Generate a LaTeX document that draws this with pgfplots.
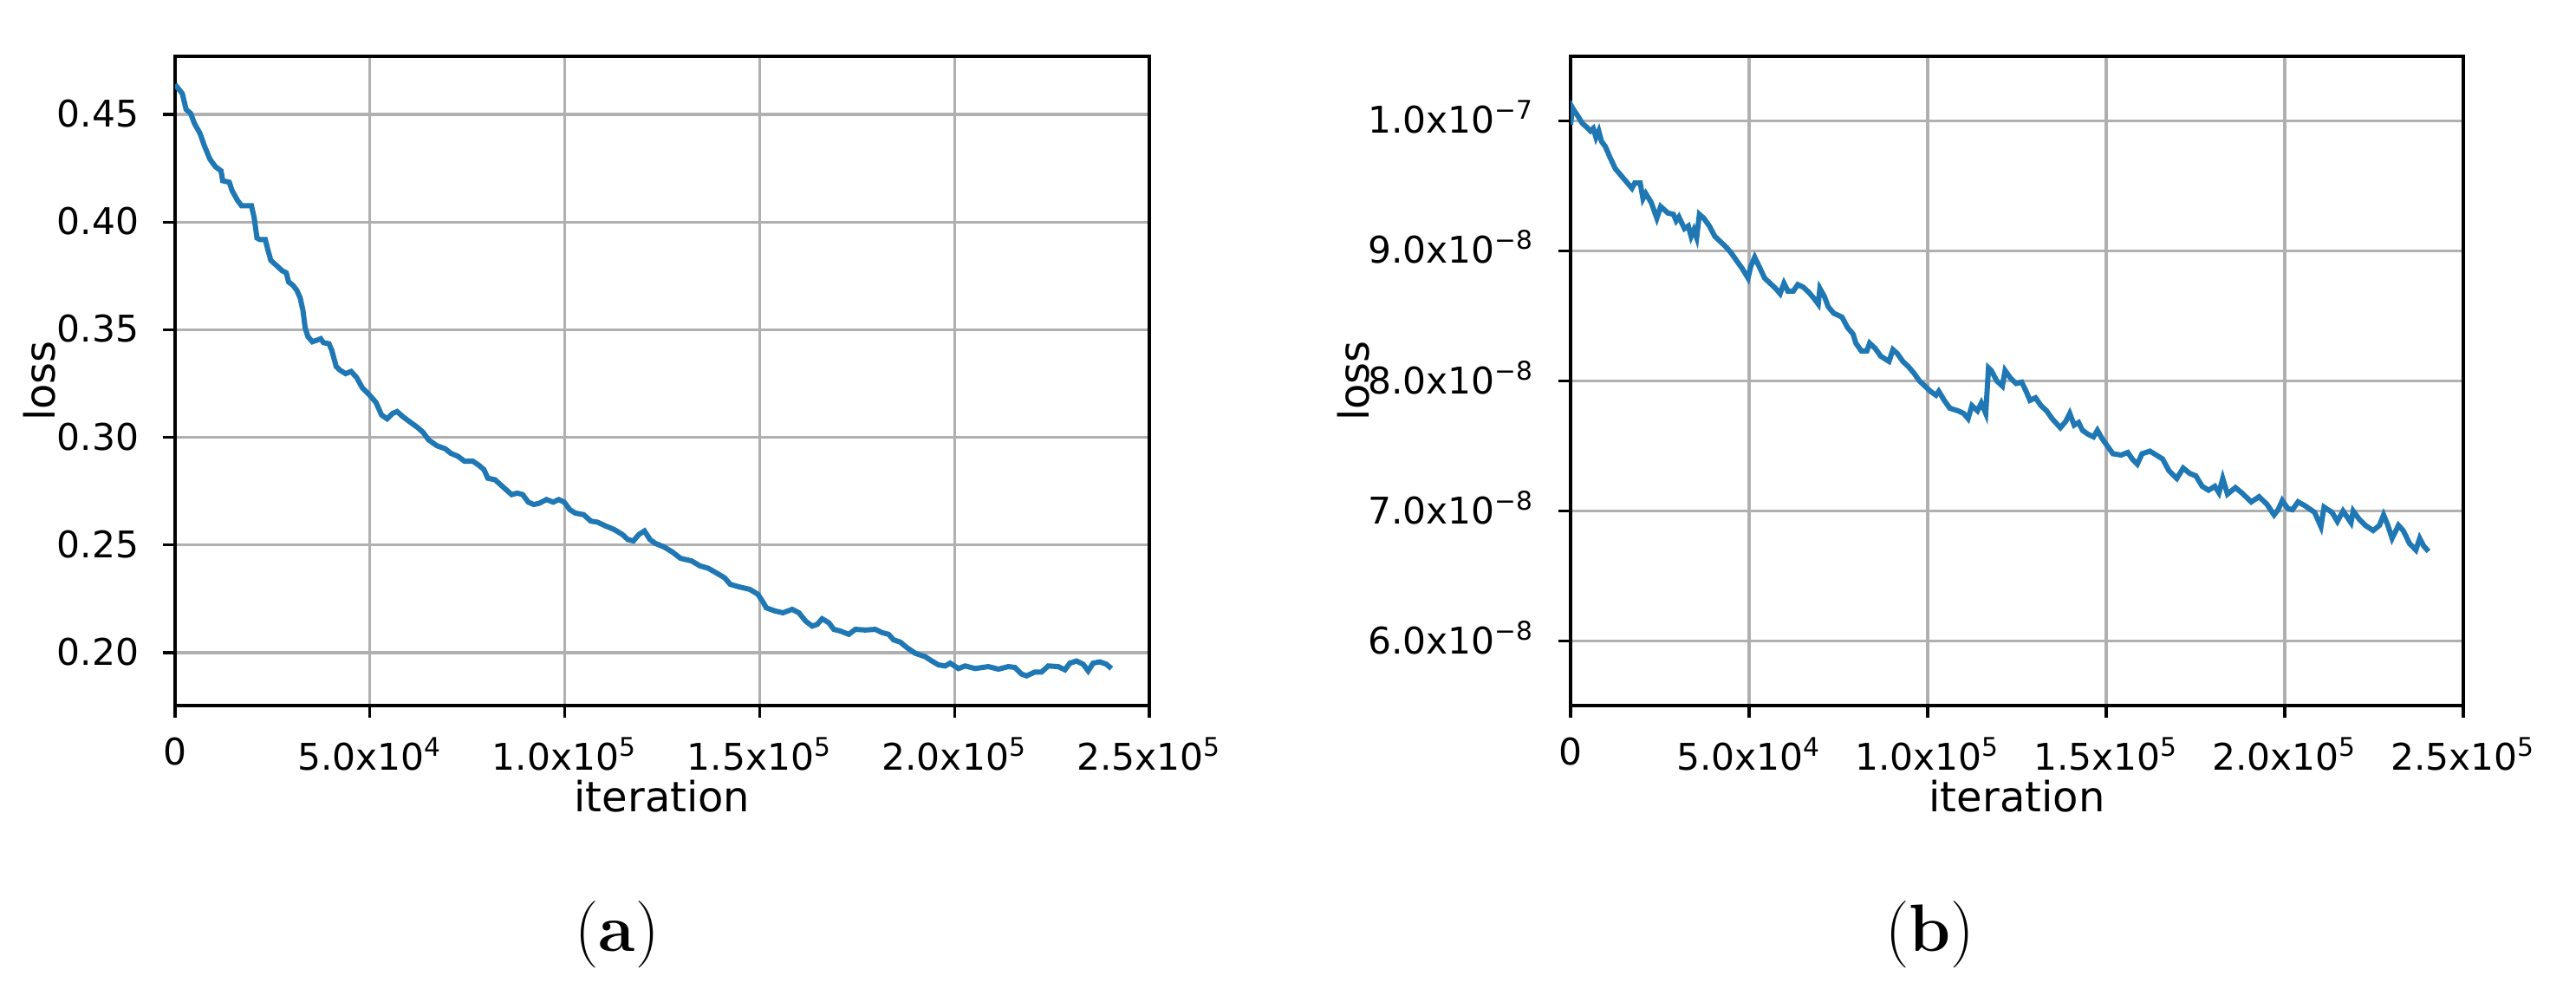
\documentclass[border=0pt]{standalone}
\usepackage{fontspec}
\usepackage{pgfplots}
\usepackage{pgfplotstable}
\pgfplotsset{compat=1.18}
\newfontfamily\dejavu{DejaVu Sans}
\definecolor{mplblue}{HTML}{1F77B4}
\definecolor{mplgrid}{HTML}{B0B0B0}
\newcommand\sci[2]{#1x10\textsuperscript{#2}}

\pgfplotstableread{
x y
0 0.4639
1850 0.4597
2840 0.4523
3980 0.4505
4970 0.4458
6390 0.4412
7530 0.4354
8950 0.4292
10370 0.4257
11790 0.4238
12220 0.4192
13920 0.4185
14630 0.4146
16050 0.4100
17050 0.4076
19600 0.4076
20310 0.4019
21020 0.3926
21730 0.3919
23150 0.3919
23860 0.3868
24570 0.3822
25990 0.3799
27410 0.3775
28550 0.3764
29120 0.3722
30260 0.3706
31250 0.3683
32100 0.3648
32810 0.3590
33380 0.3509
34090 0.3468
35230 0.3444
36360 0.3451
37360 0.3458
38070 0.3440
39490 0.3435
40200 0.3405
41340 0.3329
42330 0.3312
43750 0.3296
45170 0.3306
46590 0.3278
48010 0.3231
49860 0.3197
51560 0.3162
52980 0.3104
54400 0.3086
55820 0.3111
56960 0.3120
58380 0.3097
60090 0.3074
62220 0.3046
63640 0.3023
65060 0.2988
67190 0.2961
69320 0.2947
70740 0.2926
72590 0.2912
74290 0.2889
76420 0.2889
77840 0.2872
79260 0.2850
80260 0.2810
82100 0.2803
83520 0.2780
84940 0.2757
86360 0.2734
87780 0.2741
89200 0.2734
90630 0.2699
92050 0.2688
93470 0.2694
95310 0.2711
97020 0.2699
98440 0.2711
99860 0.2699
101280 0.2664
102700 0.2648
104830 0.2641
106680 0.2611
108380 0.2606
110510 0.2588
112640 0.2572
114770 0.2549
116190 0.2525
117610 0.2519
119030 0.2549
120450 0.2565
121870 0.2525
123300 0.2507
125430 0.2491
127560 0.2468
129690 0.2438
132530 0.2426
134660 0.2403
136790 0.2392
138920 0.2370
141050 0.2347
142470 0.2317
144600 0.2306
147440 0.2294
149570 0.2271
150990 0.2231
151700 0.2208
153840 0.2194
155970 0.2185
158360 0.2201
160070 0.2185
161770 0.2147
163480 0.2123
164760 0.2131
166040 0.2157
167750 0.2139
169030 0.2108
170730 0.2100
172870 0.2085
174570 0.2108
177130 0.2105
179690 0.2108
181400 0.2093
183100 0.2085
184380 0.2059
186090 0.2049
187800 0.2023
189930 0.1997
192490 0.1981
194200 0.1961
195900 0.1943
197610 0.1938
198890 0.1951
201020 0.1926
202730 0.1938
205290 0.1926
208700 0.1935
211260 0.1923
213820 0.1935
215530 0.1931
217240 0.1900
218520 0.1892
220650 0.1910
222360 0.1910
224060 0.1938
226620 0.1935
228330 0.1920
229610 0.1951
231310 0.1961
233020 0.1946
234300 0.1915
235580 0.1951
237290 0.1957
238990 0.1946
240270 0.1926
}\lossA

\pgfplotstableread{
x y
0 9.97e-8
500 10.10e-8
930 10.08e-8
2170 10.03e-8
3250 9.98e-8
4490 9.95e-8
5570 9.92e-8
6350 9.94e-8
7120 9.87e-8
7890 9.92e-8
8670 9.84e-8
9750 9.80e-8
10990 9.72e-8
12540 9.63e-8
14090 9.58e-8
15630 9.53e-8
17180 9.48e-8
17960 9.52e-8
19500 9.52e-8
20280 9.40e-8
21050 9.44e-8
22600 9.37e-8
24150 9.25e-8
25230 9.34e-8
27240 9.29e-8
28790 9.28e-8
29570 9.23e-8
30340 9.26e-8
31890 9.17e-8
32970 9.19e-8
33750 9.11e-8
34520 9.16e-8
35290 9.10e-8
36070 9.28e-8
37310 9.25e-8
38860 9.19e-8
40400 9.11e-8
41950 9.07e-8
43500 9.03e-8
45050 8.98e-8
46590 8.92e-8
48140 8.86e-8
49690 8.79e-8
50460 8.88e-8
51550 8.95e-8
52790 8.88e-8
54330 8.79e-8
55880 8.75e-8
57430 8.71e-8
58670 8.67e-8
59750 8.75e-8
60840 8.69e-8
62380 8.69e-8
63620 8.74e-8
65170 8.72e-8
66720 8.68e-8
68270 8.63e-8
69350 8.59e-8
69810 8.71e-8
71050 8.65e-8
72140 8.57e-8
73680 8.52e-8
76010 8.49e-8
77550 8.41e-8
79100 8.36e-8
79880 8.29e-8
81420 8.23e-8
82970 8.23e-8
83750 8.29e-8
85290 8.25e-8
86840 8.19e-8
89160 8.15e-8
90250 8.24e-8
91490 8.21e-8
93030 8.15e-8
94580 8.11e-8
96130 8.06e-8
97680 8.00e-8
99230 7.96e-8
100770 7.92e-8
102320 7.89e-8
103100 7.92e-8
104640 7.85e-8
106190 7.79e-8
108510 7.77e-8
110060 7.75e-8
111300 7.71e-8
112380 7.81e-8
113930 7.77e-8
115020 7.83e-8
116250 7.75e-8
117030 8.10e-8
117800 8.08e-8
119350 8.00e-8
120900 7.96e-8
121670 8.08e-8
123220 8.02e-8
124770 7.98e-8
126320 7.99e-8
127400 7.93e-8
128640 7.85e-8
130190 7.87e-8
131730 7.81e-8
133280 7.77e-8
134830 7.71e-8
137150 7.64e-8
138700 7.69e-8
139780 7.75e-8
141020 7.66e-8
142260 7.68e-8
143340 7.62e-8
144890 7.59e-8
146430 7.57e-8
147520 7.62e-8
148760 7.56e-8
150310 7.50e-8
151860 7.44e-8
154180 7.43e-8
156030 7.45e-8
157270 7.40e-8
158690 7.36e-8
160020 7.44e-8
162230 7.46e-8
164010 7.43e-8
165780 7.40e-8
167550 7.31e-8
169770 7.25e-8
171540 7.33e-8
173320 7.29e-8
175090 7.27e-8
176860 7.19e-8
178640 7.16e-8
180410 7.19e-8
181560 7.14e-8
182620 7.25e-8
183950 7.13e-8
186170 7.18e-8
187940 7.14e-8
190600 7.07e-8
192820 7.11e-8
195040 7.05e-8
196990 6.97e-8
198140 7.01e-8
199290 7.08e-8
200800 7.02e-8
202130 7.01e-8
203720 7.07e-8
205670 7.04e-8
208330 6.99e-8
210110 6.88e-8
210990 7.03e-8
213210 6.99e-8
214720 6.92e-8
216310 7.00e-8
218530 6.91e-8
219150 7.00e-8
220750 6.94e-8
222520 6.89e-8
224740 6.85e-8
226510 6.89e-8
227660 6.97e-8
228720 6.90e-8
230050 6.79e-8
231830 6.89e-8
233160 6.85e-8
234930 6.75e-8
236700 6.70e-8
237770 6.79e-8
238920 6.73e-8
240250 6.69e-8
}\lossB

\pgfplotsset{mplstyle/.style={
  scale only axis,
  tick pos=left,
  tick align=outside,
  major tick length=3.5pt,
  every tick/.style={black, line width=0.8pt},
  axis line style={line width=0.8pt},
  grid=major,
  grid style={mplgrid, line width=0.8pt},
  tick label style={font=\dejavu\fontsize{10.6}{12.7}\selectfont},
  label style={font=\dejavu\fontsize{12}{14.4}\selectfont},
  xmin=0, xmax=250000,
  xtick={0,50000,100000,150000,200000,250000},
  xticklabels={0,\sci{5.0}{4},\sci{1.0}{5},\sci{1.5}{5},\sci{2.0}{5},\sci{2.5}{5}},
  scaled x ticks=false, scaled y ticks=false,
  xticklabel style={yshift=-2.3pt},
  yticklabel style={anchor=base east, yshift=-0.365em, xshift=-3.4pt},
  xlabel={iteration},
  xlabel style={at={(axis description cs:0.5,0)}, anchor=base, yshift=-30.7pt},
}}

\begin{document}
\begin{tikzpicture}
\path[use as bounding box] (0,0) rectangle (743pt,288.75pt);
\begin{axis}[mplstyle,
  at={(50.5pt,85.25pt)}, anchor=south west,
  width=281pt, height=187.25pt,
  ymin=0.1754, ymax=0.477,
  ytick={0.20,0.25,0.30,0.35,0.40,0.45},
  yticklabels={0.20,0.25,0.30,0.35,0.40,0.45},
  ylabel={loss},
  ylabel style={at={(axis description cs:-0.1228,0.5)}, anchor=base},
]
\addplot[mplblue, line width=1.5pt] table[x=x,y=y] {\lossA};
\end{axis}
\begin{axis}[mplstyle,
  at={(453pt,85.25pt)}, anchor=south west,
  width=257.5pt, height=187.25pt,
  ymin=5.505e-8, ymax=10.494e-8,
  ytick={6e-8,7e-8,8e-8,9e-8,10e-8},
  yticklabels={\sci{6.0}{−8},\sci{7.0}{−8},\sci{8.0}{−8},\sci{9.0}{−8},\sci{1.0}{−7}},
  ylabel={loss},
  ylabel style={at={(axis description cs:-0.2256,0.5)}, anchor=base},
]
\addplot[mplblue, line width=1.5pt] table[x=x,y=y] {\lossB};
\end{axis}
\node at (178pt,19.1pt) {\fontsize{19.3}{23}\selectfont (\textbf{a})};
\node at (556.7pt,19.1pt) {\fontsize{19.3}{23}\selectfont (\textbf{b})};
\end{tikzpicture}
\end{document}
